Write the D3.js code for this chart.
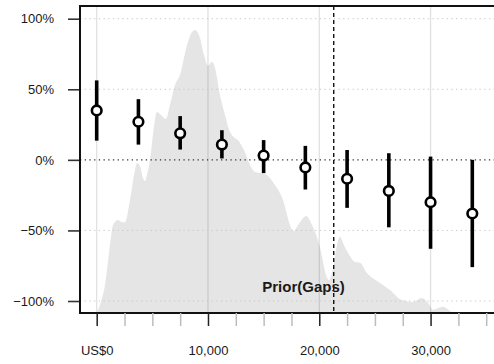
<!DOCTYPE html>
<html>
<head>
<meta charset="utf-8">
<script src="https://cdn.jsdelivr.net/npm/d3@7"></script>
<style>
  html, body { margin: 0; padding: 0; background: #fff; }
  svg { display: block; font-family: "Liberation Sans", Arial, Helvetica, sans-serif; }
</style>
</head>
<body>
<svg id="chart" width="494" height="364"></svg>
<script>
// Bin centres (US$) and estimated effect with its interval
const binCentres = [0, 3750, 7500, 11250, 15000, 18750, 22500, 26250, 30000, 33750];
const estimates  = [0.35, 0.27, 0.188, 0.108, 0.03, -0.054, -0.134, -0.22, -0.30, -0.38];
const lowerBound = [0.136, 0.108, 0.073, 0.01, -0.094, -0.21, -0.34, -0.478, -0.63, -0.76];
const upperBound = [0.563, 0.43, 0.31, 0.21, 0.14, 0.099, 0.07, 0.047, 0.023, 0.0];

// Background density of the income distribution (US$, relative height)
const densityX = [0, 296, 746, 1195, 1465, 1914, 2273, 2543, 2992, 3441, 3621, 3891, 4160, 4340,
  4519, 4789, 5058, 5418, 5777, 6226, 6586, 7035, 7484, 8113, 8562, 8832, 9281, 9640, 10000,
  10359, 10629, 11078, 11527, 11976, 12875, 13324, 13773, 14223, 15121, 16020, 16739, 17368,
  17637, 18266, 18805, 19344, 20063, 20602, 20872, 21231, 21590, 21860, 22220, 22759, 23200,
  23657, 24286, 25454, 26352, 27430, 28418, 29227, 29766, 30216, 31115, 31923, 32193];
const densityY = [0, 2.6, 9.1, 22.1, 28.7, 30.3, 29.6, 29.6, 36.8, 46.6, 48.9, 47.9, 44.0, 43.0,
  45.0, 49.8, 58.0, 65.5, 64.5, 63.2, 67.8, 74.3, 77.5, 87.3, 91.5, 92.2, 89.6, 84.0, 80.5,
  81.8, 79.8, 71.0, 64.5, 59.0, 55.4, 52.4, 48.2, 45.9, 45.3, 41.7, 36.8, 28.7,
  26.7, 29.6, 31.6, 28.7, 21.5, 12.4, 10.7, 14.7, 22.1, 24.8, 22.1, 18.6, 16.6,
  16.4, 13.0, 9.8, 7.5, 4.2, 3.6, 4.9, 3.3, 1.0, 2.0, 0.3, 0];

// Axis ticks
const yTicks = [-1, -0.5, 0, 0.5, 1];
const xTicks = d3.range(0, 35001, 2500);
const xMajor = [0, 10000, 20000, 30000];
const priorCutoff = 21300;
const priorLabel = "Prior(Gaps)";

const svg = d3.select("#chart");
const panel = { left: 80, right: 494, top: 6, bottom: 313 };

const x = d3.scaleLinear().domain([-1500, 35700]).range([panel.left, panel.right]);
const y = d3.scaleLinear().domain([-1.085, 1.09]).range([panel.bottom, panel.top]);
const yDens = d3.scaleLinear().domain([0, 100]).range([panel.bottom, panel.top]);

// density area
const dens = densityX.map((v, i) => [v, densityY[i]]);
svg.append("path")
  .datum(dens)
  .attr("fill", "#e5e5e5")
  .attr("d", d3.area()
    .x(d => x(d[0]))
    .y0(panel.bottom)
    .y1(d => yDens(d[1]))
    .curve(d3.curveMonotoneX));

// vertical grid
svg.append("g").selectAll("line")
  .data(xMajor).join("line")
  .attr("x1", d => x(d)).attr("x2", d => x(d))
  .attr("y1", panel.top).attr("y2", panel.bottom)
  .attr("stroke", "#000").attr("stroke-opacity", 0.12).attr("stroke-width", 1.3);

// horizontal dotted grid
svg.append("g").selectAll("line")
  .data(yTicks.filter(d => d !== 0)).join("line")
  .attr("x1", panel.left).attr("x2", panel.right)
  .attr("y1", d => y(d)).attr("y2", d => y(d))
  .attr("stroke", "#c8c8c8").attr("stroke-width", 1)
  .attr("stroke-dasharray", "1.3,3.4");

// zero reference
svg.append("line")
  .attr("x1", panel.left).attr("x2", panel.right)
  .attr("y1", y(0)).attr("y2", y(0))
  .attr("stroke", "#333").attr("stroke-width", 1.2)
  .attr("stroke-dasharray", "1.3,3.4");

// prior cutoff
svg.append("line")
  .attr("x1", x(priorCutoff)).attr("x2", x(priorCutoff))
  .attr("y1", panel.top).attr("y2", panel.bottom)
  .attr("stroke", "#000").attr("stroke-width", 1.3)
  .attr("stroke-dasharray", "4,3");

svg.append("text")
  .attr("x", 303.5).attr("y", 292)
  .attr("text-anchor", "middle")
  .attr("font-size", 15).attr("font-weight", "bold")
  .attr("fill", "#1a1a1a")
  .text(priorLabel);

// intervals and estimates
const pts = binCentres.map((b, i) => ({ b, est: estimates[i], lo: lowerBound[i], hi: upperBound[i] }));
svg.append("g").selectAll("line")
  .data(pts).join("line")
  .attr("x1", d => x(d.b)).attr("x2", d => x(d.b))
  .attr("y1", d => y(d.lo)).attr("y2", d => y(d.hi))
  .attr("stroke", "#000").attr("stroke-width", 3.6);

svg.append("g").selectAll("circle")
  .data(pts).join("circle")
  .attr("cx", d => x(d.b)).attr("cy", d => y(d.est))
  .attr("r", 4.8)
  .attr("fill", "#fff").attr("stroke", "#000").attr("stroke-width", 2.6);

// panel borders
svg.append("line").attr("x1", panel.left).attr("x2", panel.right).attr("y1", panel.top).attr("y2", panel.top)
  .attr("stroke", "#111").attr("stroke-width", 2);
svg.append("line").attr("x1", panel.left).attr("x2", panel.right).attr("y1", panel.bottom).attr("y2", panel.bottom)
  .attr("stroke", "#111").attr("stroke-width", 2);
svg.append("line").attr("x1", panel.left).attr("x2", panel.left).attr("y1", panel.top - 1).attr("y2", panel.bottom + 1)
  .attr("stroke", "#111").attr("stroke-width", 2);

// y axis
const yAxis = svg.append("g")
  .attr("transform", `translate(${panel.left - 1},0)`)
  .call(d3.axisLeft(y).tickValues(yTicks).tickFormat(d3.format(".0%")).tickSize(11).tickPadding(14));
yAxis.select(".domain").remove();
yAxis.selectAll(".tick line").attr("stroke", "#333").attr("stroke-width", 1.6);
yAxis.selectAll(".tick text").attr("font-size", 13).attr("fill", "#1a1a1a")
  .attr("font-family", "Liberation Sans, Arial, sans-serif");

// x axis
const xAxis = svg.append("g")
  .attr("transform", `translate(0,${panel.bottom})`)
  .call(d3.axisBottom(x).tickValues(xTicks).tickSize(13).tickPadding(20)
    .tickFormat(d => xMajor.includes(d) ? (d === 0 ? "US$0" : d3.format(",")(d)) : ""));
xAxis.select(".domain").remove();
xAxis.selectAll(".tick line")
  .attr("stroke", d => xMajor.includes(d) ? "#222" : "#bdbdbd")
  .attr("stroke-width", 1.5);
xAxis.selectAll(".tick text").attr("font-size", 13).attr("fill", "#1a1a1a")
  .attr("font-family", "Liberation Sans, Arial, sans-serif");
</script>
</body>
</html>
